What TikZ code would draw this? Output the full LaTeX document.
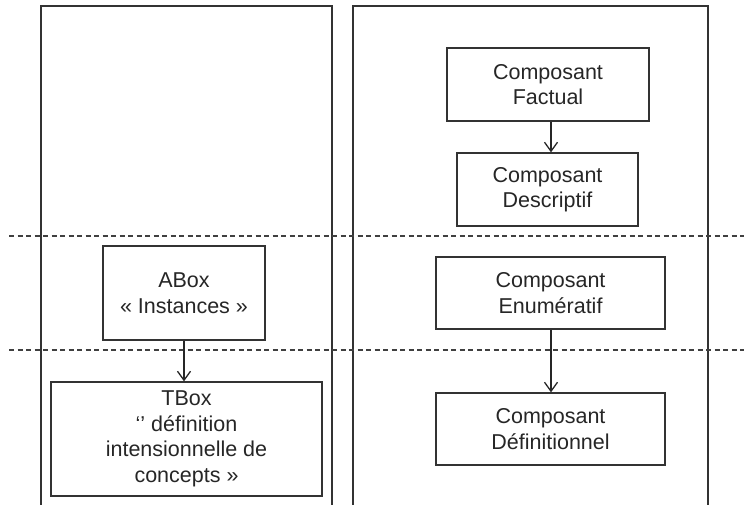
\documentclass[tikz,border=0pt]{standalone}
\usepackage{fontspec}
\setmainfont{Liberation Sans}
\usetikzlibrary{arrows.meta}
\begin{document}
\begin{tikzpicture}[x=1pt,y=-1pt,
  box/.style={draw=black!80,line width=1.3pt,rectangle,inner sep=0pt,align=center,
    font=\fontsize{21.5}{25.5}\selectfont,text=black!85},
  frame/.style={draw=black!80,line width=1.3pt},
  sep/.style={draw=black!75,line width=1.3pt,dash pattern=on 5pt off 3.5pt},
  link/.style={draw=black!85,line width=1.3pt,-{Straight Barb[length=9pt,width=13pt]}}]
\useasboundingbox (0,0) rectangle (744,505);
% panels
\coordinate (l1) at (41,505); \coordinate (l2) at (41,6); \coordinate (l3) at (332,6); \coordinate (l4) at (332,505);
\coordinate (r1) at (353,505); \coordinate (r2) at (353,6); \coordinate (r3) at (708,6); \coordinate (r4) at (708,505);
\draw[frame] (l1) -- (l2) -- (l3) -- (l4);
\draw[frame] (r1) -- (r2) -- (r3) -- (r4);
% separators
\coordinate (s1a) at (9,236); \coordinate (s1b) at (744,236);
\coordinate (s2a) at (9,350); \coordinate (s2b) at (744,350);
\draw[sep] (s1a) -- (s1b);
\draw[sep] (s2a) -- (s2b);
% boxes
\node[box,fill=white,minimum width=162pt,minimum height=94pt] (abox) at (184,293) {ABox\\« Instances »};
\node[box,minimum width=271pt,minimum height=114pt] (tbox) at (186.5,439) {TBox\\‘’ définition\\intensionnelle de\\concepts »};
\node[box,minimum width=202pt,minimum height=73pt] (fact) at (548,84.5) {Composant\\Factual};
\node[box,minimum width=181pt,minimum height=73pt] (desc) at (547.5,189.5) {Composant\\Descriptif};
\node[box,minimum width=229pt,minimum height=72pt] (enum) at (550.5,293) {Composant\\Enumératif};
\node[box,minimum width=229pt,minimum height=72pt] (defi) at (550.5,429) {Composant\\Définitionnel};
% links
\draw[link] (abox.south) -- (abox.south |- tbox.north);
\draw[link] ([xshift=3pt]fact.south) -- ([xshift=3pt]fact.south |- desc.north);
\draw[link] ([xshift=0.5pt]enum.south) -- ([xshift=0.5pt]defi.north);
\end{tikzpicture}
\end{document}
